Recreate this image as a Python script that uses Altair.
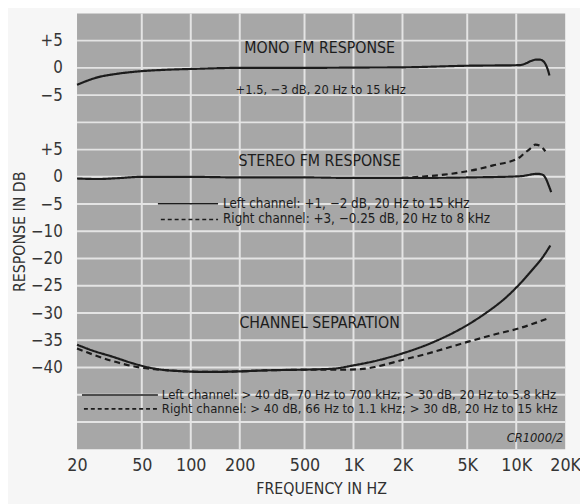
import json
import altair as alt
import pandas as pd

# ---------------- data ----------------
mono_freq = [20, 27, 35, 50, 70, 100, 200, 500, 1000, 2000, 5150, 10400, 11300, 12300, 13200, 14000, 14700, 15300, 15700, 16000]
mono_db = [-3.1, -1.7, -1.1, -0.6, -0.35, -0.2, 0.0, 0.0, 0.05, 0.1, 0.4, 0.5, 0.75, 1.25, 1.5, 1.5, 1.2, 0.4, -0.5, -1.4]

stereo_l_freq = [20, 27, 35, 50, 100, 200, 500, 1000, 2000, 5150, 10400, 11700, 12700, 13600, 14500, 15200, 15800, 16400]
stereo_l_db = [-0.3, -0.4, -0.25, 0.0, 0.0, -0.1, -0.1, -0.2, -0.2, -0.1, 0.1, 0.3, 0.5, 0.55, 0.4, -0.3, -1.5, -2.8]

stereo_r_freq = [2000, 2500, 3600, 5150, 7200, 10400, 11000, 12200, 13100, 14000, 15100]
stereo_r_db = [-0.2, 0.0, 0.4, 1.1, 2.1, 3.5, 4.1, 5.2, 5.9, 5.7, 4.7]

sep_l_freq = [20, 25, 33, 45, 60, 80, 130, 200, 300, 460, 750, 1000, 1400, 2000, 3000, 5000, 6500, 8600, 10400, 12600, 14500, 16200]
sep_l_db = [-35.8, -36.9, -38.0, -39.3, -40.2, -40.6, -40.8, -40.7, -40.5, -40.4, -40.2, -39.6, -38.7, -37.4, -35.5, -32.2, -30.0, -27.2, -24.8, -22.0, -19.8, -17.6]

sep_r_freq = [20, 25, 33, 45, 60, 80, 130, 200, 300, 460, 800, 1100, 1400, 2000, 2800, 5150, 7200, 10400, 15600]
sep_r_db = [-36.5, -37.6, -38.8, -39.8, -40.3, -40.6, -40.8, -40.7, -40.5, -40.4, -40.4, -40.3, -39.8, -38.6, -37.5, -35.2, -34.0, -32.8, -31.0]

x_ticks = [20, 50, 100, 200, 500, 1000, 2000, 5000, 10000, 20000]
x_grid = [50, 100, 200, 500, 1000, 2000, 5000, 10000]
# stacked panels: one label per grid row from the top (row 1 = first line below the top edge)
y_tick_labels = ["+5", "0", "\u22125", "", "+5", "0", "\u22125", "\u221210", "\u221220", "\u221225", "\u221230", "\u221235", "\u221240", "", ""]
panel_offsets = {"mono": -10, "stereo": -30, "sep": -25}

texts = {
    "mono_title": "MONO FM RESPONSE",
    "mono_note": "+1.5, \u22123 dB, 20 Hz to 15 kHz",
    "stereo_title": "STEREO FM RESPONSE",
    "stereo_left": "Left channel: +1, \u22122 dB, 20 Hz to 15 kHz",
    "stereo_right": "Right channel: +3, \u22120.25 dB, 20 Hz to 8 kHz",
    "sep_title": "CHANNEL SEPARATION",
    "sep_left": "Left channel: > 40 dB, 70 Hz to 700 kHz;  > 30 dB, 20 Hz to 5.8 kHz",
    "sep_right": "Right channel: > 40 dB, 66 Hz to 1.1 kHz;  > 30 dB, 20 Hz to 15 kHz",
    "code": "CR1000/2",
}

# ---------------- table ----------------
rows = []
def add(name, panel, style, freqs, dbs):
    for f, d in zip(freqs, dbs):
        rows.append({"curve": name, "style": style, "freq": f, "db": d,
                     "pos": d + panel_offsets[panel]})

add("mono", "mono", "solid", mono_freq, mono_db)
add("stereo_l", "stereo", "solid", stereo_l_freq, stereo_l_db)
add("stereo_r", "stereo", "dashed", stereo_r_freq, stereo_r_db)
add("sep_l", "sep", "solid", sep_l_freq, sep_l_db)
add("sep_r", "sep", "dashed", sep_r_freq, sep_r_db)
df = pd.DataFrame(rows)

FONT = "Liberation Sans Narrow, DejaVu Sans Condensed, Arial Narrow, sans-serif"
INK = "#1c1c1c"
GRID = "#e4e4e4"

xscale = alt.Scale(type="log", domain=[20, 20000], nice=False)
yscale = alt.Scale(domain=[-80, 0], nice=False, zero=False)

label_expr = "datum.value >= 1000 ? (datum.value / 1000) + 'K' : '' + datum.value"
y_label_vals = [-5 * (i + 1) for i, s in enumerate(y_tick_labels) if s]
ylab_expr = json.dumps(y_tick_labels) + "[round(-datum.value / 5) - 1]"

xaxis = alt.Axis(values=x_ticks, labelExpr=label_expr, title="FREQUENCY IN HZ",
                 grid=False, ticks=False, domain=False, labelPadding=7,
                 labelFontSize=18, labelFont=FONT, labelColor="#353535",
                 labelFlush=False, labelOverlap=False, titleFont=FONT, titleFontSize=16,
                 titleFontWeight="normal", titleColor="#303030", titlePadding=7)
yaxis = alt.Axis(values=y_label_vals, labelExpr=ylab_expr, title="RESPONSE IN DB",
                 grid=False, ticks=False, domain=False, labelPadding=15,
                 labelFontSize=17, labelFont=FONT, labelColor="#353535",
                 labelOverlap=False, labelFlush=False,
                 titleFont=FONT, titleFontSize=16, titleFontWeight="normal",
                 titleColor="#303030", titlePadding=3)

xgrid = alt.Chart(pd.DataFrame({"g": x_grid})).mark_rule(color=GRID, strokeWidth=2).encode(
    x=alt.X("g:Q", scale=xscale, axis=xaxis)
)
ygrid_vals = [-5 * (i + 1) for i in range(15)]
ygrid = alt.Chart(pd.DataFrame({"g": ygrid_vals})).mark_rule(color=GRID, strokeWidth=2).encode(
    y=alt.Y("g:Q", scale=yscale, axis=yaxis)
)

lines = alt.Chart(df).mark_line(color=INK, strokeWidth=2.2, interpolate="monotone").encode(
    x=alt.X("freq:Q", scale=xscale, axis=xaxis),
    y=alt.Y("pos:Q", scale=yscale, axis=yaxis),
    detail="curve:N",
    strokeDash=alt.StrokeDash("style:N", scale=alt.Scale(domain=["solid", "dashed"], range=[[1, 0], [6, 4]]), legend=None),
)

def txt(key, x, y, size=13, align="left", style="normal"):
    return alt.Chart(pd.DataFrame({"t": [texts[key]]})).mark_text(
        font=FONT, fontSize=size, color=INK, align=align, baseline="middle", fontStyle=style
    ).encode(x=alt.value(x), y=alt.value(y), text="t:N")

def sample(x1, x2, y, dash):
    m = alt.Chart(pd.DataFrame({"a": [0]})).mark_rule(color=INK, strokeWidth=1.6, strokeDash=dash)
    return m.encode(x=alt.value(x1), x2=alt.value(x2), y=alt.value(y))

layers = [
    xgrid, ygrid, lines,
    txt("mono_title", 246, 35, 16, "center"),
    txt("mono_note", 247, 78, 13, "center"),
    txt("stereo_title", 246, 150, 16, "center"),
    sample(82, 143, 193, [1, 0]),
    txt("stereo_left", 148, 193, 13.5),
    sample(85, 143, 209, [4, 3]),
    txt("stereo_right", 148, 209, 13.5),
    txt("sep_title", 246, 314, 16, "center"),
    sample(5, 82, 387, [1, 0]),
    txt("sep_left", 86, 387, 13.2),
    sample(7, 82, 401, [4, 3]),
    txt("sep_right", 86, 401, 13.2),
    txt("code", 493, 431, 13, "right", "italic"),
]

chart = alt.layer(*layers).properties(
    width=495, height=442,
    autosize=alt.AutoSizeParams(type="none"),
    padding={"left": 70, "top": 2, "right": 15, "bottom": 52},
    background="#f6f6f6",
).configure_view(fill="#a7a7a7", stroke=None).configure_axis(labelOverlap=False)

chart.save("out.html", embed_options={"renderer": "svg", "actions": False})
